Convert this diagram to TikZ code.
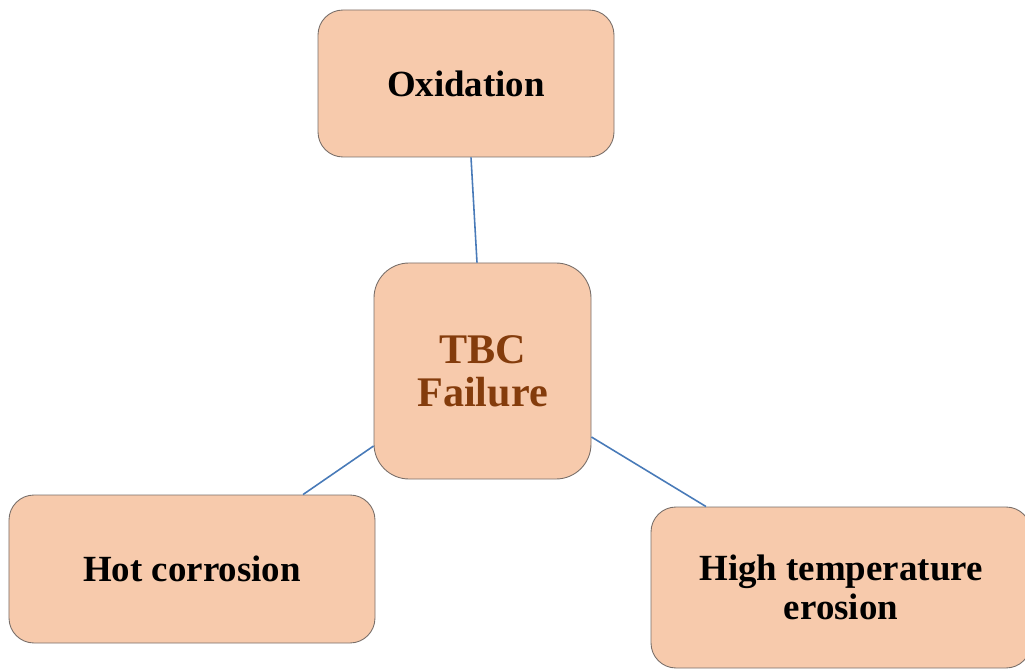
\documentclass[tikz,border=0pt]{standalone}
\usepackage{fontspec}
\setmainfont{Liberation Serif}
\usepackage{xcolor}
\usepackage{tikz}
\usetikzlibrary{positioning}
\definecolor{peach}{RGB}{247,202,172}
\definecolor{boxedge}{RGB}{120,110,105}
\definecolor{linkblue}{RGB}{72,122,184}
\definecolor{darkbrown}{RGB}{132,60,12}

\tikzset{
  cause/.style={draw=boxedge, fill=peach, line width=0.5pt, rounded corners=0.5cm,
    align=center, font=\bfseries\fontsize{21}{23}\selectfont, inner sep=0pt},
  link/.style={draw=linkblue, line width=0.9pt}
}

\begin{document}
\begin{tikzpicture}
\useasboundingbox (0,0) rectangle (20.5,13.36);

% Boxes
\node[cause, minimum width=5.92cm, minimum height=2.94cm] (ox) at (9.32,11.69) {Oxidation};
\node[cause, minimum width=4.34cm, minimum height=4.32cm, rounded corners=0.7cm,
  text=darkbrown, font=\bfseries\fontsize{24}{24.5}\selectfont] (tbc) at (9.65,5.94) {TBC\\Failure};
\node[cause, minimum width=7.32cm, minimum height=2.96cm] (hc) at (3.84,1.98) {Hot corrosion};
\node[cause, minimum width=7.6cm, minimum height=3.22cm,
  font=\bfseries\fontsize{21}{22}\selectfont] (ht) at (16.82,1.61) {High temperature\\erosion};

% Connectors
\draw[link] ([xshift=0.1cm]ox.south) -- ([xshift=-0.11cm]tbc.north);
\draw[link] ([xshift=2.22cm]hc.north) -- ([yshift=-1.5cm]tbc.west);
\draw[link] ([yshift=-1.32cm]tbc.east) -- ([xshift=-2.7cm]ht.north);
\end{tikzpicture}
\end{document}
